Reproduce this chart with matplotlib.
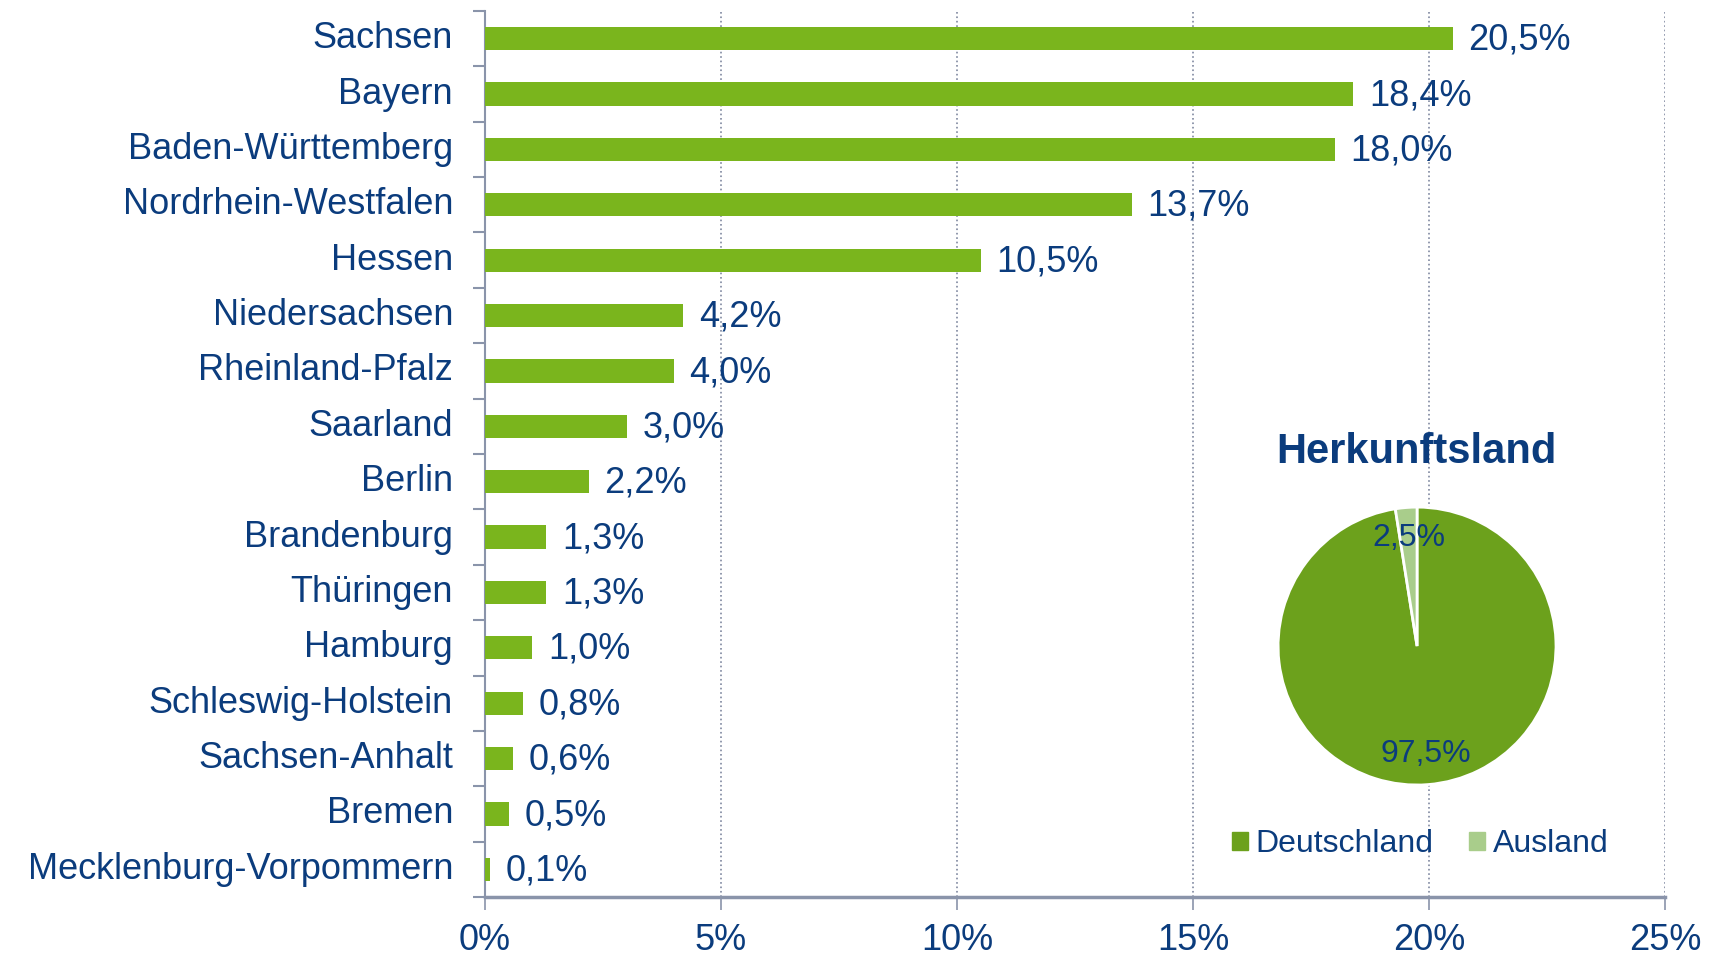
import matplotlib.pyplot as plt
from matplotlib.patches import Patch

plt.rcParams['font.family'] = ['Liberation Sans', 'DejaVu Sans']

# Bundesländer und Anteile in %
laender = ['Sachsen', 'Bayern', 'Baden-Württemberg', 'Nordrhein-Westfalen', 'Hessen',
           'Niedersachsen', 'Rheinland-Pfalz', 'Saarland', 'Berlin', 'Brandenburg',
           'Thüringen', 'Hamburg', 'Schleswig-Holstein', 'Sachsen-Anhalt', 'Bremen',
           'Mecklenburg-Vorpommern']
anteile = [20.5, 18.4, 18.0, 13.7, 10.5, 4.2, 4.0, 3.0, 2.2, 1.3, 1.3, 1.0, 0.8, 0.6, 0.5, 0.1]

# Herkunftsland
herkunft = ['Deutschland', 'Ausland']
herkunft_werte = [97.5, 2.5]

x_ticks = [0, 5, 10, 15, 20, 25]

navy = '#0B3C7D'
gruen = '#7AB51D'
pie_farben = ['#6CA11C', '#A9CD8B']

fig = plt.figure(figsize=(17.17, 9.55), dpi=100)
ax = fig.add_axes([0.2825, 0.0607, 0.6872, 0.9278])

pos = list(range(len(laender)))
ax.barh(pos, anteile, height=0.42, color=gruen, zorder=3)
for p, v in zip(pos, anteile):
    ax.text(v + 0.33, p + 0.03, f'{v:.1f}%'.replace('.', ','), va='center', ha='left',
            fontsize=26, color=navy)

ax.set_ylim(len(laender) - 0.5, -0.5)
ax.set_xlim(0, 25)
ax.set_yticks(pos)
ax.set_yticklabels(laender, fontsize=26, color=navy, va='center')
ax.tick_params(axis='y', length=0, pad=23)
ax.set_yticks([p + 0.5 for p in range(-1, len(laender))], minor=True)
ax.tick_params(axis='y', which='minor', length=9, width=1.5, color='#8A94AA')

ax.set_xticks(x_ticks)
ax.set_xticklabels([f'{t}%' for t in x_ticks], fontsize=26, color=navy)
ax.tick_params(axis='x', length=9, width=1.2, color='#8A94AA', pad=10)
ax.grid(axis='x', linestyle=':', color='#7F88A0', linewidth=1.2, zorder=0)

for s in ['top', 'right']:
    ax.spines[s].set_visible(False)
ax.spines['left'].set_color('#8A94AA')
ax.spines['left'].set_linewidth(1.5)
ax.spines['bottom'].set_color('#8A94AA')
ax.spines['bottom'].set_linewidth(2.5)

# Kreisdiagramm Herkunftsland
pax = fig.add_axes([0.7443, 0.178, 0.162, 0.291])
pax.pie(herkunft_werte, colors=pie_farben, startangle=90, counterclock=False,
        autopct=lambda p: f'{p:.1f}%'.replace('.', ','), pctdistance=0.78,
        wedgeprops=dict(edgecolor='white', linewidth=2),
        textprops=dict(fontsize=23, color=navy))
pax.set_xlim(-1.0, 1.0)
pax.set_ylim(-1.0, 1.0)
pax.set_aspect('equal')

fig.text(0.825, 0.527, 'Herkunftsland', ha='center', va='center', fontsize=30,
         fontweight='bold', color=navy)

handles = [Patch(color=c) for c in pie_farben]
leg = fig.legend(handles, herkunft, loc='center', bbox_to_anchor=(0.827, 0.116), ncol=2,
                 frameon=False, fontsize=23, handlelength=0.5, handleheight=0.5,
                 handletextpad=0.25, columnspacing=1.1)
for t in leg.get_texts():
    t.set_color(navy)

fig.savefig('out.png', dpi=100)
